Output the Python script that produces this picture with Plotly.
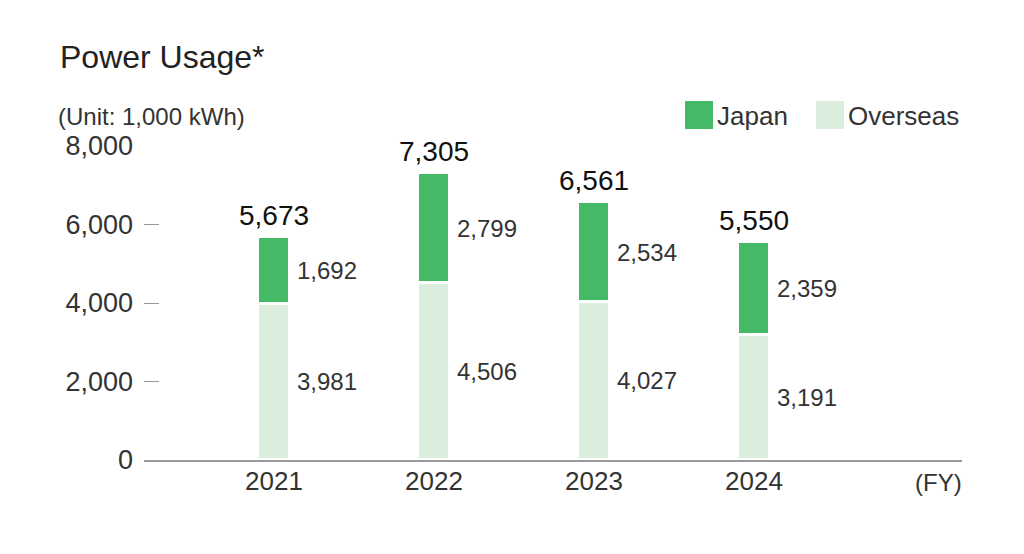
import plotly.graph_objects as go

years = ["2021", "2022", "2023", "2024"]
japan = [1692, 2799, 2534, 2359]
overseas = [3981, 4506, 4027, 3191]
totals = [5673, 7305, 6561, 5550]
y_ticks = [0, 2000, 4000, 6000, 8000]

JAPAN_COLOR = "#45BA66"
OVERSEAS_COLOR = "#DBEEDD"
FONT = "Liberation Sans"
TEXT = "#333333"

# page has an 8px body margin, so the figure is shrunk and shifted by that
OFF = 8
W, H = 1024 - OFF, 554 - OFF
L, R, T, B = 144 - OFF, 62, 146 - OFF, 94


def px(x):
    # page pixel -> paper x
    return (x - OFF - L) / (W - L - R)


def py(y):
    # page pixel -> paper y
    return (H - B - (y - OFF)) / (H - T - B)


xs = list(range(len(years)))

fig = go.Figure()

fig.add_trace(go.Bar(
    x=xs, y=overseas, name="Overseas", width=0.2,
    marker=dict(color=OVERSEAS_COLOR, line=dict(color="white", width=3)),
    showlegend=False, hoverinfo="y",
))
fig.add_trace(go.Bar(
    x=xs, y=japan, name="Japan", width=0.2,
    marker=dict(color=JAPAN_COLOR, line=dict(color="white", width=3)),
    showlegend=False, hoverinfo="y",
))

annotations = []
for i in xs:
    # segment labels, right of bar
    annotations.append(dict(
        x=i + 0.13, y=overseas[i] / 2, xref="x", yref="y",
        text=f"{overseas[i]:,}", showarrow=False,
        xanchor="left", yanchor="middle",
        font=dict(family=FONT, size=24, color=TEXT),
    ))
    annotations.append(dict(
        x=i + 0.13, y=overseas[i] + japan[i] / 2, xref="x", yref="y",
        text=f"{japan[i]:,}", showarrow=False,
        xanchor="left", yanchor="middle",
        font=dict(family=FONT, size=24, color=TEXT),
    ))
    # totals on top
    annotations.append(dict(
        x=i, y=totals[i], xref="x", yref="y",
        xanchor="center", yanchor="bottom", yshift=4,
        text=f"{totals[i]:,}", showarrow=False,
        font=dict(family=FONT, size=28, color="#111111"),
    ))

annotations.append(dict(
    x=px(56), y=py(117), xref="paper", yref="paper",
    xanchor="left", yanchor="middle",
    text="(Unit: 1,000 kWh)", showarrow=False,
    font=dict(family=FONT, size=24, color=TEXT),
))
annotations.append(dict(
    x=px(964), y=py(482), xref="paper", yref="paper",
    xanchor="right", yanchor="middle",
    text="(FY)", showarrow=False,
    font=dict(family=FONT, size=24, color=TEXT),
))

# legend drawn by hand so the swatches can be large
shapes = []
legend_items = [("Japan", JAPAN_COLOR, 685), ("Overseas", OVERSEAS_COLOR, 816)]
for name, color, x0 in legend_items:
    shapes.append(dict(
        type="rect", xref="paper", yref="paper",
        x0=px(x0), x1=px(x0 + 28), y0=py(129), y1=py(101),
        fillcolor=color, line=dict(width=0),
    ))
    annotations.append(dict(
        x=px(x0 + 30), y=py(116), xref="paper", yref="paper",
        xanchor="left", yanchor="middle",
        text=name, showarrow=False,
        font=dict(family=FONT, size=26, color=TEXT),
    ))

fig.update_layout(
    width=W, height=H,
    margin=dict(l=L, r=R, t=T, b=B),
    paper_bgcolor="white", plot_bgcolor="white",
    barmode="stack", bargap=0,
    title=dict(
        text="Power Usage*", x=(60 - OFF) / W, xanchor="left",
        y=1 - (57 - OFF) / H, yanchor="middle",
        font=dict(family=FONT, size=32, color="#222222"),
    ),
    annotations=annotations,
    shapes=shapes,
)

fig.update_xaxes(
    range=[-0.8125, 4.3], tickvals=xs, ticktext=years,
    showgrid=False, zeroline=False, ticks="",
    showline=True, linecolor="#999999", linewidth=1.5,
    ticklabelstandoff=-3,
    tickfont=dict(family=FONT, size=26, color=TEXT),
)
fig.update_yaxes(
    range=[0, 8000], tickvals=y_ticks, tickformat=",",
    showgrid=False, zeroline=False, showline=False,
    ticks="inside", ticklen=15, tickcolor="#999999", tickwidth=1,
    ticklabelstandoff=10,
    tickfont=dict(family=FONT, size=27, color=TEXT),
)

fig.write_html("out.html")
